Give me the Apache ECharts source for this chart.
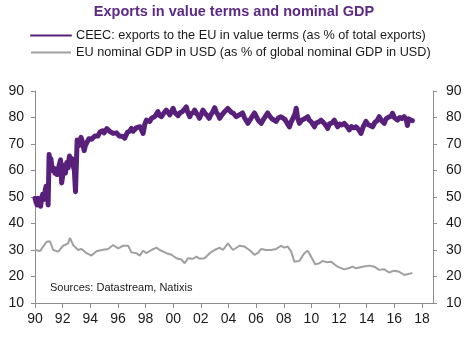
<!DOCTYPE html>
<html><head><meta charset="utf-8">
<script src="https://cdn.jsdelivr.net/npm/echarts@6/dist/echarts.min.js"></script>
<style>html,body{margin:0;padding:0;background:#fff}#c{width:473px;height:338px}</style>
</head><body><div id="c"></div>
<script>
const titleText = 'Exports in value terms and nominal GDP';
const seriesNames = ['CEEC: exports to the EU in value terms (as % of total exports)', 'EU nominal GDP in USD (as % of global nominal GDP in USD)'];
const xTicks = [1990,1992,1994,1996,1998,2000,2002,2004,2006,2008,2010,2012,2014,2016,2018];
const yTicks = [10,20,30,40,50,60,70,80,90];
const sourceText = 'Sources: Datastream, Natixis';

// CEEC exports to EU (% of total exports): [decimal year, value]
const exportsData = [
[1990.00,49.5],[1990.08,48],[1990.15,47],[1990.22,49.5],[1990.30,50],[1990.35,48],[1990.40,46.5],[1990.48,49],
[1990.55,51],[1990.62,49],[1990.70,50],[1990.75,53],[1990.80,54],[1990.85,51],[1990.90,52],[1990.95,47],
[1991.02,66],[1991.08,63],[1991.15,64.5],[1991.25,60],[1991.35,61],[1991.44,59],[1991.52,60],[1991.60,58.5],
[1991.68,60.5],[1991.75,62],[1991.85,64],[1991.93,55.3],[1992.00,58],[1992.06,61],[1992.10,62],[1992.20,59],
[1992.30,63],[1992.40,61],[1992.45,64],[1992.50,65.5],[1992.60,63],[1992.68,64.5],[1992.75,62],[1992.85,60],
[1992.93,52],[1993.05,71.5],[1993.13,72],[1993.20,69.5],[1993.25,70],[1993.33,72.5],[1993.40,71.5],[1993.50,69],
[1993.56,67.5],[1993.65,69.5],[1993.70,70],[1993.80,71],[1993.90,72],[1993.97,72.5],[1994.10,71.8],[1994.20,72.5],
[1994.33,73],[1994.45,73.5],[1994.55,73],[1994.70,74.5],[1994.80,74],[1994.90,75],[1995.00,74.2],[1995.10,74.5],
[1995.20,75.8],[1995.27,75.5],[1995.40,74.8],[1995.50,74.5],[1995.65,74],[1995.78,73.4],[1995.90,74.2],[1996.00,74],
[1996.10,73],[1996.20,73.5],[1996.35,72.8],[1996.50,72.2],[1996.60,73.5],[1996.70,74.5],[1996.85,74.8],[1996.98,75.9],
[1997.10,74.8],[1997.20,75],[1997.35,76.2],[1997.46,75.5],[1997.60,76.5],[1997.70,76],[1997.82,74],[1997.95,77.5],
[1998.06,79],[1998.20,79.3],[1998.30,78.5],[1998.45,79.8],[1998.56,79.3],[1998.66,80.3],[1998.80,81],[1998.90,82.2],
[1999.00,80.8],[1999.15,80.3],[1999.30,81.5],[1999.40,81.2],[1999.50,82.8],[1999.62,82],[1999.75,81],[1999.88,82.2],
[1999.99,83.5],[2000.10,82],[2000.22,81.6],[2000.35,80.7],[2000.50,81.8],[2000.65,82.2],[2000.80,83],[2000.95,84],
[2001.05,82],[2001.20,80.3],[2001.30,81.5],[2001.45,81.8],[2001.55,82.8],[2001.68,81.6],[2001.80,80.8],[2001.90,79.7],
[2002.05,81.5],[2002.15,82.8],[2002.30,81.6],[2002.45,80.8],[2002.60,79.7],[2002.72,81],[2002.85,82],[2003.00,83.7],
[2003.12,82],[2003.25,81],[2003.36,79.7],[2003.50,80.8],[2003.62,81.5],[2003.72,82.2],[2003.85,82.5],[2003.95,83.4],
[2004.08,83.5],[2004.20,82],[2004.35,81.6],[2004.56,80.3],[2004.70,80.8],[2004.85,81.2],[2005.02,81.7],[2005.15,80],
[2005.28,79.5],[2005.40,77.8],[2005.55,79],[2005.70,80.2],[2005.88,81.7],[2006.00,80.5],[2006.15,79],[2006.37,77.8],
[2006.50,79],[2006.65,80.2],[2006.84,81.7],[2006.98,80.5],[2007.15,79.5],[2007.30,79],[2007.45,78.5],[2007.60,79.8],
[2007.80,80.3],[2007.93,81],[2008.08,79.3],[2008.25,77.8],[2008.41,76.5],[2008.55,78.5],[2008.70,80],[2008.82,81.5],
[2008.90,83.5],[2009.00,80],[2009.13,77.8],[2009.30,79],[2009.50,79.5],[2009.73,80.3],[2009.85,79],[2010.00,78.3],
[2010.22,76.5],[2010.35,78],[2010.50,78.2],[2010.70,79],[2010.85,78.2],[2011.00,77.4],[2011.18,75.9],[2011.30,77.5],
[2011.50,78],[2011.66,79],[2011.78,78.3],[2011.90,76.5],[2012.05,77.5],[2012.20,77.2],[2012.38,77.8],[2012.55,76.8],
[2012.74,75.3],[2012.90,76.6],[2013.05,76.1],[2013.23,76.5],[2013.40,75.6],[2013.59,74],[2013.75,76.5],[2013.95,78.5],
[2014.10,77.3],[2014.25,77],[2014.43,76.5],[2014.60,78.2],[2014.75,78.8],[2014.91,80.3],[2015.05,79],[2015.27,77.8],
[2015.40,79.5],[2015.60,80.2],[2015.75,80.4],[2015.87,81.6],[2016.00,80],[2016.10,79.5],[2016.23,79],[2016.40,80],
[2016.55,79.6],[2016.71,80.3],[2016.85,79.5],[2016.95,77],[2017.05,79.5],[2017.15,79.2],[2017.20,79],[2017.31,78.8]
];

// EU nominal GDP in USD (% of global nominal GDP): [decimal year, value]
const gdpData = [
[1990.0,30],[1990.36,29.6],[1990.84,33.1],[1991.08,33.3],[1991.32,30],[1991.68,29.4],[1992.04,31.6],[1992.4,32.5],
[1992.53,34.6],[1992.77,31.8],[1993.13,30],[1993.37,30.4],[1993.73,28.8],[1994.09,27.9],[1994.45,29.5],[1994.82,30],
[1995.29,30.4],[1995.65,31.9],[1996.01,30.6],[1996.38,31.6],[1996.74,31.6],[1996.98,29.1],[1997.34,28.8],[1997.58,27.9],
[1997.82,29.7],[1998.06,28.8],[1998.43,30],[1998.79,30.9],[1999.03,30],[1999.51,28.8],[1999.87,28.2],[2000.23,26.9],
[2000.59,26.4],[2000.83,25],[2001.07,26.9],[2001.43,26.7],[2001.68,27.5],[2001.91,26.7],[2002.27,26.9],[2002.64,28.8],
[2003.0,30],[2003.36,30.9],[2003.6,30],[2003.96,32.5],[2004.08,32.5],[2004.32,30],[2004.8,31.6],[2005.16,31.3],
[2005.52,30],[2005.88,28.2],[2006.12,28.8],[2006.37,30.4],[2006.73,30],[2007.09,30],[2007.45,30.4],[2007.57,29.7],
[2007.81,31.6],[2008.05,30.9],[2008.29,31.3],[2008.53,29.5],[2008.77,25.6],[2009.13,25.9],[2009.49,28.8],[2009.73,29.7],
[2009.98,27.5],[2010.27,24.6],[2010.58,25],[2010.82,25.9],[2011.06,25.4],[2011.42,25.6],[2011.9,23.7],[2012.38,22.7],
[2012.74,23.2],[2012.98,23.7],[2013.23,23.1],[2013.7,23.7],[2014.19,24.1],[2014.55,23.7],[2014.91,22.5],[2015.27,22.7],
[2015.63,21.5],[2015.99,22.2],[2016.35,21.8],[2016.71,20.6],[2017.08,21],[2017.31,21.3]
];

const FONT = 'Liberation Sans, Arial, sans-serif';
const AXIS_COLOR = '#8c8c8c';
const TEXT_COLOR = '#1a1a1a';
const PURPLE = '#58207a';
const GREY = '#a0a0a0';

const yAxisCommon = {
  type: 'value', min: 10, max: 90, interval: 10,
  splitLine: { show: false },
  axisLine: { show: true, lineStyle: { color: AXIS_COLOR, width: 1 } },
  axisTick: { show: true, length: 4, lineStyle: { color: AXIS_COLOR } },
  axisLabel: { fontSize: 14, color: TEXT_COLOR, fontFamily: FONT, customValues: yTicks }
};

const chart = echarts.init(document.getElementById('c'), null, { renderer: 'canvas' });
chart.setOption({
  animation: false,
  backgroundColor: '#fff',
  title: {
    text: titleText, left: 229, textAlign: 'center', top: -1,
    textStyle: { fontSize: 14.5, fontWeight: 'bold', color: '#5c2a84', fontFamily: FONT }
  },
  legend: {
    orient: 'vertical', left: 25, top: 24, itemWidth: 40, itemHeight: 14, itemGap: 4,
    textStyle: { fontSize: 12.7, color: TEXT_COLOR, fontFamily: FONT },
    itemStyle: { opacity: 0, borderWidth: 0 },
    data: seriesNames
  },
  grid: { left: 35, right: 40, top: 91, bottom: 35 },
  xAxis: {
    type: 'value', min: 1990, max: 2018.8,
    splitLine: { show: false },
    axisLine: { show: true, lineStyle: { color: AXIS_COLOR } },
    axisTick: { show: true, length: 5, customValues: xTicks, lineStyle: { color: AXIS_COLOR } },
    axisLabel: { fontSize: 14, color: TEXT_COLOR, fontFamily: FONT, margin: 9, customValues: xTicks,
      formatter: v => String(Math.round(v)).slice(2) }
  },
  yAxis: [
    Object.assign({}, yAxisCommon, { position: 'left', axisLabel: Object.assign({}, yAxisCommon.axisLabel, { margin: 11 }) }),
    Object.assign({}, yAxisCommon, { position: 'right', axisLabel: Object.assign({}, yAxisCommon.axisLabel, { margin: 13 }) })
  ],
  graphic: [{
    type: 'text', left: 50, top: 282,
    style: { text: sourceText, fontSize: 11, fill: TEXT_COLOR, fontFamily: FONT }
  }],
  series: [
    { name: seriesNames[1], type: 'line', data: gdpData, symbol: 'none',
      lineStyle: { color: GREY, width: 2 }, itemStyle: { color: GREY }, z: 2 },
    { name: seriesNames[0], type: 'line', data: exportsData, symbol: 'none',
      lineStyle: { color: PURPLE, width: 5, cap: 'round', join: 'round' }, itemStyle: { color: PURPLE }, z: 3 }
  ]
});
</script>
</body></html>
